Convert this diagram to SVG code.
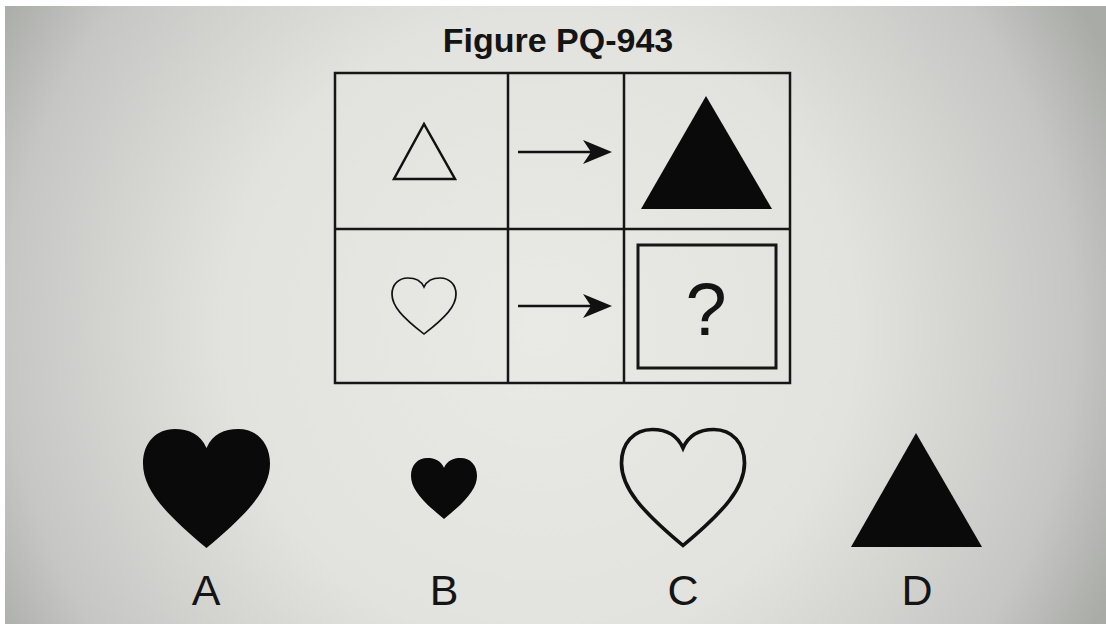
<svg xmlns="http://www.w3.org/2000/svg" width="1106" height="624" viewBox="0 0 1106 624">
<defs>
<radialGradient id="bg" gradientUnits="userSpaceOnUse" cx="540" cy="330" r="630">
<stop offset="0" stop-color="#e9e9e5"/>
<stop offset="0.5" stop-color="#e2e2de"/>
<stop offset="0.85" stop-color="#c6c7c4"/>
<stop offset="1" stop-color="#a9aba7"/>
</radialGradient>
<path id="heart" d="M50,16 C55,4 64,0 75,0 C90,0 100,12 100,29 C100,50 84,70 50,100 C16,70 0,50 0,29 C0,12 10,0 25,0 C36,0 45,4 50,16 Z"/>
</defs>
<style>
.grid{fill:none;stroke:#161616;stroke-width:2.5}
.outline{fill:none;stroke:#111;stroke-width:2.5}
.solid{fill:#0a0a0a}
.lbl{font-family:"Liberation Sans",Arial,sans-serif;fill:#141414;text-anchor:middle}
.arrowline{stroke:#111;stroke-width:2.5;fill:none}
.arrowhead{fill:#111}
</style>
<rect x="0" y="0" width="1106" height="624" fill="url(#bg)"/>
<rect x="0" y="0" width="1106" height="6" fill="#ffffff"/>
<rect x="0" y="0" width="5" height="624" fill="#ffffff"/>

<g id="title">
<text class="lbl" x="558" y="52" font-size="34" font-weight="bold">Figure PQ-943</text>
</g>

<g id="grid">
<rect class="grid" x="335" y="73" width="455" height="310"/>
<line class="grid" x1="508" y1="73" x2="508" y2="383"/>
<line class="grid" x1="624" y1="73" x2="624" y2="383"/>
<line class="grid" x1="335" y1="229" x2="790" y2="229"/>
</g>

<g id="cell-triangle-outline">
<polygon class="outline" points="424,124 394,179 455,179"/>
</g>
<g id="cell-triangle-filled">
<polygon class="solid" points="706,96 641,209 772,209"/>
</g>
<g id="cell-heart-outline">
<use href="#heart" transform="translate(392,278) scale(0.64,0.56)" fill="none" stroke="#111" stroke-width="2.7" vector-effect="non-scaling-stroke"/>
</g>
<g id="cell-question">
<rect x="638" y="245" width="138" height="123" fill="none" stroke="#161616" stroke-width="3"/>
<text class="lbl" x="706" y="335" font-size="74">?</text>
</g>

<g id="arrows">
<line class="arrowline" x1="518" y1="152" x2="596" y2="152"/>
<path class="arrowhead" d="M612,152 L583,140 L591,152 L583,164 Z"/>
<line class="arrowline" x1="518" y1="306" x2="596" y2="306"/>
<path class="arrowhead" d="M612,306 L583,294 L591,306 L583,318 Z"/>
</g>

<g id="option-A">
<use href="#heart" class="solid" transform="translate(143,429) scale(1.27,1.19)"/>
<text class="lbl" x="206" y="605" font-size="43">A</text>
</g>
<g id="option-B">
<use href="#heart" class="solid" transform="translate(411,458) scale(0.66,0.61)"/>
<text class="lbl" x="444" y="605" font-size="43">B</text>
</g>
<g id="option-C">
<use href="#heart" transform="translate(621.5,429.5) scale(1.23,1.16)" fill="none" stroke="#111" stroke-width="3" vector-effect="non-scaling-stroke"/>
<text class="lbl" x="683" y="605" font-size="43">C</text>
</g>
<g id="option-D">
<polygon class="solid" points="916,433 851,547 982,547"/>
<text class="lbl" x="917" y="605" font-size="43">D</text>
</g>
</svg>
